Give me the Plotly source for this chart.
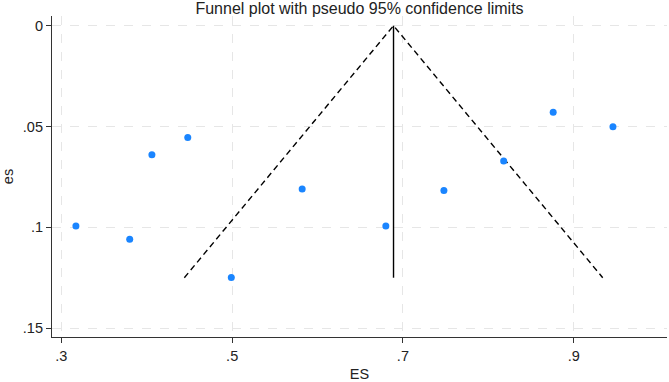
import plotly.graph_objects as go

# Study data
effect_size = [0.317, 0.380, 0.406, 0.448, 0.499, 0.582, 0.680, 0.748, 0.818, 0.876, 0.946]
std_err = [0.0993, 0.1059, 0.0640, 0.0555, 0.1249, 0.0810, 0.0993, 0.0817, 0.0671, 0.0429, 0.0501]

pooled_es = 0.689
se_max = 0.125
z95 = 1.96

x_tickvals = [0.3, 0.5, 0.7, 0.9]
x_ticktext = [".3", ".5", ".7", ".9"]
y_tickvals = [0, 0.05, 0.1, 0.15]
y_ticktext = ["0", ".05", ".1", ".15"]

font_family = "Liberation Sans, Arial, Helvetica, sans-serif"

fig = go.Figure()

# pseudo 95% confidence limits
fig.add_trace(go.Scatter(
    x=[pooled_es - z95 * se_max, pooled_es, pooled_es + z95 * se_max],
    y=[se_max, 0, se_max],
    mode="lines",
    line=dict(color="black", width=1.4, dash="6px,4px"),
    hoverinfo="skip", showlegend=False,
))
# pooled effect line
fig.add_trace(go.Scatter(
    x=[pooled_es, pooled_es],
    y=[0, se_max],
    mode="lines",
    line=dict(color="black", width=1.4),
    hoverinfo="skip", showlegend=False,
))
# studies
fig.add_trace(go.Scatter(
    x=effect_size, y=std_err,
    mode="markers",
    marker=dict(color="#1a85ff", size=7),
    showlegend=False,
))

fig.update_layout(
    width=669, height=382,
    margin=dict(l=52, r=2, t=16, b=42),
    paper_bgcolor="white", plot_bgcolor="white",
    font=dict(family=font_family, size=14, color="#222"),
    title=dict(text="Funnel plot with pseudo 95% confidence limits",
               xref="paper", x=0.5, xanchor="center",
               yref="container", y=0.992, yanchor="top",
               pad=dict(t=0, b=0),
               font=dict(size=16, color="#222")),
)
fig.update_xaxes(
    range=[0.289, 1.0093],
    tickvals=x_tickvals, ticktext=x_ticktext,
    ticks="outside", ticklen=5, tickcolor="#333", tickwidth=1,
    showline=True, linecolor="#333", linewidth=1.2,
    showgrid=True, gridcolor="#e6e6e6", griddash="dash", gridwidth=1,
    zeroline=False,
    title=dict(text="ES", standoff=6, font=dict(size=14.5)),
    tickfont=dict(size=14.5),
)
fig.update_yaxes(
    range=[0.1544, -0.0048],
    tickvals=y_tickvals, ticktext=y_ticktext,
    ticks="outside", ticklen=5, tickcolor="#333", tickwidth=1,
    showline=True, linecolor="#333", linewidth=1.2,
    showgrid=True, gridcolor="#e6e6e6", griddash="dash", gridwidth=1,
    zeroline=False,
    title=dict(text="es", standoff=10, font=dict(size=14.5)),
    tickfont=dict(size=14.5),
)

fig.write_html("out.html", config={"displayModeBar": False},
               post_script="document.body.style.margin='0';")
